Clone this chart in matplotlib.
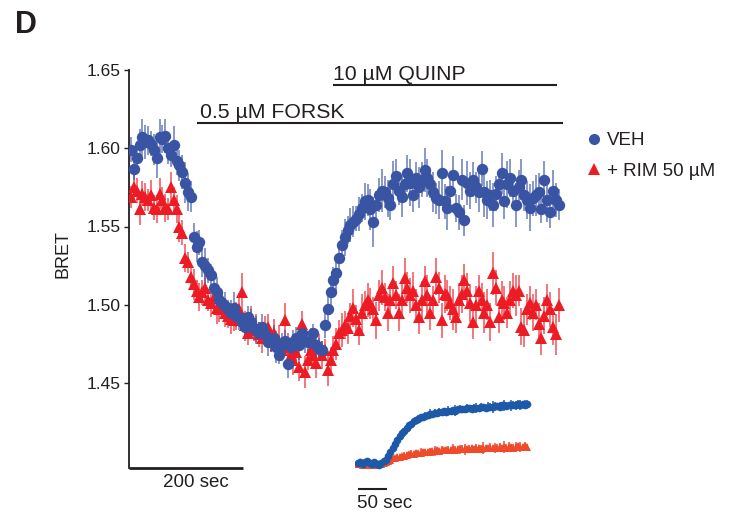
import numpy as np
import matplotlib
matplotlib.use("Agg")
import matplotlib.pyplot as plt
from matplotlib.lines import Line2D

plt.rcParams['font.family'] = ['Liberation Sans', 'DejaVu Sans']

# ---- main time course (BRET ratio, 5 s sampling) ----
time_step = 5
veh = [1.599, 1.587, 1.594, 1.602, 1.607, 1.604, 1.605, 1.603, 1.599, 1.594,
       1.607, 1.606, 1.608, 1.600, 1.596, 1.602, 1.592, 1.589, 1.585, 1.578,
       1.572, 1.569, 1.543, 1.537, 1.540, 1.527, 1.525, 1.522, 1.519, 1.511,
       1.508, 1.503, 1.501, 1.499, 1.497, 1.495, 1.498, 1.493, 1.492, 1.489,
       1.486, 1.492, 1.489, 1.485, 1.484, 1.482, 1.486, 1.481, 1.476, 1.477,
       1.479, 1.473, 1.468, 1.474, 1.477, 1.462, 1.473, 1.476, 1.479, 1.474,
       1.482, 1.477, 1.476, 1.476, 1.482, 1.474, 1.472, 1.471, 1.487, 1.497,
       1.508, 1.516, 1.520, 1.530, 1.538, 1.543, 1.548, 1.551, 1.553, 1.555,
       1.558, 1.562, 1.566, 1.567, 1.561, 1.553, 1.564, 1.570, 1.573, 1.572,
       1.568, 1.564, 1.577, 1.582, 1.573, 1.569, 1.577, 1.584, 1.578, 1.570,
       1.581, 1.575, 1.580, 1.586, 1.581, 1.577, 1.572, 1.568, 1.567, 1.584,
       1.566, 1.562, 1.573, 1.583, 1.562, 1.559, 1.580, 1.554, 1.578, 1.573,
       1.580, 1.575, 1.572, 1.587, 1.572, 1.567, 1.570, 1.564, 1.571, 1.577,
       1.584, 1.566, 1.577, 1.581, 1.573, 1.564, 1.575, 1.580, 1.570, 1.567,
       1.562, 1.568, 1.570, 1.572, 1.561, 1.580, 1.567, 1.559, 1.573, 1.567,
       1.564]
veh_sem = [.008, .007, .009, .010, .012, .011, .009, .008, .010, .013,
           .012, .009, .011, .010, .008, .012, .009, .010, .011, .013,
           .012, .010, .009, .010, .008, .009, .011, .008, .007, .009,
           .010, .008, .007, .009, .006, .008, .010, .007, .008, .006,
           .009, .007, .008, .006, .009, .007, .008, .006, .009, .007,
           .008, .010, .006, .008, .007, .009, .006, .008, .007, .009,
           .006, .008, .007, .009, .006, .008, .007, .006, .008, .009,
           .010, .008, .011, .009, .010, .012, .009, .011, .010, .008,
           .011, .009, .012, .010, .013, .016, .009, .011, .014, .010,
           .012, .010, .015, .011, .009, .013, .010, .012, .015, .011,
           .010, .013, .011, .014, .012, .009, .013, .010, .012, .015,
           .011, .014, .010, .012, .009, .011, .013, .010, .014, .012,
           .011, .010, .013, .011, .016, .012, .010, .014, .011, .009,
           .013, .011, .015, .012, .010, .014, .011, .013, .010, .012,
           .015, .011, .013, .012, .009, .012, .014, .010, .013, .011,
           .010]
rim = [1.569, 1.575, 1.573, 1.561, 1.571, 1.569, 1.567, 1.570, 1.562, 1.561,
       1.571, 1.567, 1.562, 1.561, 1.575, 1.567, 1.561, 1.550, 1.546, 1.530,
       1.527, 1.518, 1.513, 1.509, 1.505, 1.508, 1.511, 1.503, 1.501, 1.504,
       1.498, 1.497, 1.500, 1.495, 1.493, 1.491, 1.490, 1.493, 1.497, 1.508,
       1.487, 1.482, 1.489, 1.484, 1.485, 1.481, 1.479, 1.484, 1.486, 1.477,
       1.482, 1.474, 1.477, 1.471, 1.490, 1.473, 1.468, 1.465, 1.470, 1.460,
       1.488, 1.457, 1.465, 1.471, 1.468, 1.463, 1.473, 1.468, 1.471, 1.458,
       1.465, 1.471, 1.475, 1.482, 1.484, 1.487, 1.485, 1.493, 1.498, 1.491,
       1.484, 1.495, 1.500, 1.503, 1.501, 1.497, 1.490, 1.506, 1.511, 1.505,
       1.495, 1.503, 1.514, 1.506, 1.495, 1.503, 1.517, 1.511, 1.506, 1.509,
       1.500, 1.492, 1.503, 1.515, 1.506, 1.495, 1.503, 1.518, 1.511, 1.490,
       1.507, 1.506, 1.501, 1.497, 1.492, 1.503, 1.507, 1.516, 1.509, 1.501,
       1.489, 1.500, 1.509, 1.503, 1.495, 1.500, 1.489, 1.520, 1.511, 1.492,
       1.503, 1.501, 1.495, 1.503, 1.509, 1.506, 1.509, 1.486, 1.484, 1.497,
       1.501, 1.495, 1.500, 1.488, 1.479, 1.493, 1.503, 1.497, 1.486, 1.481,
       1.500]
rim_sem = [.007, .009, .008, .010, .008, .009, .007, .010, .008, .009,
           .010, .008, .009, .007, .010, .008, .009, .010, .008, .009,
           .007, .008, .010, .007, .009, .008, .010, .007, .009, .008,
           .010, .008, .007, .009, .008, .010, .007, .009, .008, .012,
           .009, .008, .010, .007, .009, .008, .010, .009, .008, .007,
           .009, .008, .010, .007, .011, .009, .008, .010, .007, .009,
           .008, .010, .007, .009, .008, .010, .008, .009, .007, .010,
           .008, .009, .010, .008, .011, .009, .010, .008, .012, .009,
           .010, .012, .009, .011, .010, .008, .012, .010, .011, .009,
           .012, .010, .011, .009, .012, .010, .013, .010, .011, .012,
           .010, .011, .012, .010, .013, .011, .009, .012, .010, .011,
           .012, .010, .011, .013, .010, .011, .012, .010, .011, .012,
           .011, .012, .010, .011, .013, .010, .012, .014, .011, .010,
           .012, .011, .010, .012, .011, .013, .010, .012, .011, .010,
           .011, .012, .010, .013, .011, .012, .010, .011, .012, .013,
           .011]

# ---- inset: normalised response after QUINP (4 s sampling) ----
inset_step = 4
inset_veh = [0.00, 0.02, -0.02, 0.01, 0.03, 0.00, -0.02, 0.01, -0.01, -0.03,
             0.00, 0.03, 0.06, 0.12, 0.20, 0.27, 0.33, 0.40, 0.47, 0.52,
             0.57, 0.62, 0.66, 0.69, 0.73, 0.75, 0.77, 0.80, 0.81, 0.83,
             0.84, 0.86, 0.86, 0.88, 0.88, 0.89, 0.90, 0.91, 0.90, 0.92,
             0.92, 0.93, 0.92, 0.94, 0.94, 0.95, 0.94, 0.96, 0.96, 0.95,
             0.97, 0.97, 0.96, 0.98, 0.98, 0.97, 0.99, 0.99, 0.98, 1.00,
             1.00, 0.99, 1.01, 1.01, 1.00, 1.02, 1.01, 1.02, 1.01, 1.03,
             1.02, 1.03, 1.02, 1.03]
inset_veh_sem = [0.04, 0.03, 0.05, 0.03, 0.04, 0.03, 0.05, 0.04, 0.03, 0.04,
                 0.05, 0.04, 0.03, 0.05, 0.04, 0.06, 0.04, 0.05, 0.06, 0.04,
                 0.05, 0.07, 0.04, 0.05, 0.06, 0.04, 0.07, 0.05, 0.04, 0.06,
                 0.05, 0.08, 0.04, 0.06, 0.05, 0.07, 0.04, 0.06, 0.05, 0.08,
                 0.05, 0.06, 0.10, 0.05, 0.07, 0.04, 0.06, 0.08, 0.05, 0.07,
                 0.06, 0.09, 0.05, 0.07, 0.06, 0.05, 0.08, 0.06, 0.10, 0.07,
                 0.05, 0.08, 0.06, 0.09, 0.07, 0.05, 0.10, 0.06, 0.08, 0.07,
                 0.09, 0.06, 0.08, 0.07]
inset_rim = [-0.02, 0.01, -0.03, -0.01, 0.00, -0.04, -0.02, 0.00, -0.03, -0.01,
             -0.02, 0.00, 0.02, 0.04, 0.06, 0.08, 0.09, 0.10, 0.11, 0.12,
             0.13, 0.14, 0.15, 0.15, 0.16, 0.17, 0.17, 0.18, 0.19, 0.19,
             0.20, 0.20, 0.21, 0.21, 0.22, 0.21, 0.22, 0.23, 0.22, 0.23,
             0.23, 0.24, 0.23, 0.24, 0.24, 0.25, 0.24, 0.25, 0.25, 0.26,
             0.25, 0.26, 0.26, 0.25, 0.26, 0.27, 0.26, 0.27, 0.27, 0.26,
             0.27, 0.28, 0.27, 0.28, 0.27, 0.28, 0.28, 0.27, 0.28, 0.29,
             0.28, 0.28, 0.29, 0.28]
inset_rim_sem = [0.04, 0.05, 0.03, 0.04, 0.05, 0.03, 0.04, 0.05, 0.04, 0.03,
                 0.04, 0.05, 0.04, 0.06, 0.04, 0.05, 0.04, 0.06, 0.05, 0.04,
                 0.06, 0.05, 0.04, 0.07, 0.05, 0.06, 0.04, 0.08, 0.05, 0.06,
                 0.04, 0.07, 0.05, 0.09, 0.06, 0.05, 0.08, 0.04, 0.06, 0.07,
                 0.05, 0.09, 0.06, 0.05, 0.08, 0.06, 0.10, 0.05, 0.07, 0.06,
                 0.05, 0.08, 0.06, 0.07, 0.10, 0.05, 0.06, 0.08, 0.05, 0.09,
                 0.06, 0.07, 0.05, 0.10, 0.06, 0.08, 0.05, 0.07, 0.09, 0.06,
                 0.08, 0.06, 0.07, 0.05]

series_labels = ['VEH', '+ RIM 50 \u00b5M']
yticks = [1.45, 1.50, 1.55, 1.60, 1.65]
forsk_label, forsk_span = '0.5 \u00b5M FORSK', (116, 758)
quinp_label, quinp_span = '10 \u00b5M QUINP', (354, 747)

BLUE = '#3a54a4'
RED = '#ed1c24'
IN_BLUE = '#1c59a8'
IN_RED = '#ef4b2a'
INK = '#231f20'

t_main = np.arange(len(veh)) * time_step
t_inset = np.arange(len(inset_veh)) * inset_step

W, H = 731, 521
fig = plt.figure(figsize=(W / 100, H / 100), dpi=100)

# main axes placed in pixel units
ax_l, ax_r, ax_t, ax_b = 129, 589, 70, 468
ax = fig.add_axes([ax_l / W, (H - ax_b) / H, (ax_r - ax_l) / W, (ax_b - ax_t) / H])
px_per_s = 0.57
x0 = 131
ax.set_xlim((ax_l - x0) / px_per_s, (ax_r - x0) / px_per_s)
ymin = 1.65 - (ax_b - ax_t) / 1565.0
ax.set_ylim(ymin, 1.65)


def draw(axis, t, y, e, color, marker, ms, cap, elw, alpha):
    cont = axis.errorbar(t, y, yerr=e, fmt=marker, color=color, ms=ms,
                         mec=color, mew=0, ecolor=color, elinewidth=elw,
                         capsize=cap, capthick=elw, zorder=3)
    for c in cont[1]:
        c.set_alpha(alpha)
    for c in cont[2]:
        c.set_alpha(alpha)
    return cont


draw(ax, t_main, rim, rim_sem, RED, '^', 9.0, 3.5, 1.2, 0.7)
draw(ax, t_main, veh, veh_sem, BLUE, 'o', 8.2, 3.5, 1.2, 0.7)

for s in ['top', 'right', 'bottom']:
    ax.spines[s].set_visible(False)
ax.spines['left'].set_linewidth(1.3)
ax.spines['left'].set_color(INK)
ax.set_xticks([])
ax.set_yticks(yticks)
ax.set_yticklabels([f'{v:.2f}' for v in yticks])
ax.tick_params(axis='y', direction='out', length=3.5, width=1.0, colors=INK,
               labelsize=12.5, pad=2.5)
ax.set_ylabel('BRET', fontsize=13, color=INK)
ax.yaxis.set_label_coords((72 - ax_l) / (ax_r - ax_l), (ax_b - 254) / (ax_b - ax_t))

# 200 s scale bar along the bottom
t_left = ax.get_xlim()[0]
ax.plot([t_left, t_left + 200], [ymin, ymin], color=INK, lw=2.0,
        clip_on=False, solid_capstyle='butt', zorder=4)
ax.text(t_left + 118, ymin - 0.0095, '200 sec', ha='center', va='center',
        fontsize=13.5, color=INK, clip_on=False)

# drug application bars
ax.plot(forsk_span, [1.6161, 1.6161], color=INK, lw=1.5, clip_on=False,
        solid_capstyle='butt')
ax.text(forsk_span[0] + 5, 1.6195, forsk_label, ha='left', va='baseline',
        fontsize=15.3, color=INK, clip_on=False)
ax.plot(quinp_span, [1.6404, 1.6404], color=INK, lw=1.5, clip_on=False,
        solid_capstyle='butt')
ax.text(quinp_span[0], 1.6438, quinp_label, ha='left', va='baseline',
        fontsize=15.3, color=INK, clip_on=False)

# legend
handles = [Line2D([], [], ls='none', marker='o', color=BLUE, ms=8, mew=0),
           Line2D([], [], ls='none', marker='^', color=RED, ms=8.5, mew=0)]
fig.legend(handles, series_labels, loc='upper left',
           bbox_to_anchor=(587.5 / W, 1 - 132 / H), frameon=False,
           fontsize=13.5, handlelength=0.7, handletextpad=0.35,
           labelspacing=0.72, borderpad=0, borderaxespad=0, numpoints=1,
           labelcolor=INK)

# panel letter
fig.text(15 / W, 1 - 25 / H, 'D', fontsize=22, fontweight='bold', color=INK,
         ha='left', va='center')

# inset axes
in_px_per_s = 0.58
in_x0, in_y0, in_scale = 358, 463, 57.0
in_xlim = (-5, 300)
in_ylim = (-0.15, 1.2)
il = in_x0 + in_xlim[0] * in_px_per_s
ir = in_x0 + in_xlim[1] * in_px_per_s
itop = in_y0 - in_ylim[1] * in_scale
ibot = in_y0 - in_ylim[0] * in_scale
axi = fig.add_axes([il / W, (H - ibot) / H, (ir - il) / W, (ibot - itop) / H])
axi.set_xlim(*in_xlim)
axi.set_ylim(*in_ylim)
axi.axis('off')
draw(axi, t_inset, inset_rim, inset_rim_sem, IN_RED, '^', 5.5, 2.5, 1.2, 0.9)
draw(axi, t_inset, inset_veh, inset_veh_sem, IN_BLUE, 'o', 5.5, 2.5, 1.2, 0.9)

bar_y = (in_y0 - 489) / in_scale
axi.plot([0, 50], [bar_y, bar_y], color=INK, lw=1.5, clip_on=False,
         solid_capstyle='butt')
axi.text(-2, (in_y0 - 503) / in_scale, '50 sec', ha='left', va='center',
         fontsize=13.5, color=INK, clip_on=False)

fig.savefig('out.png', dpi=100)
